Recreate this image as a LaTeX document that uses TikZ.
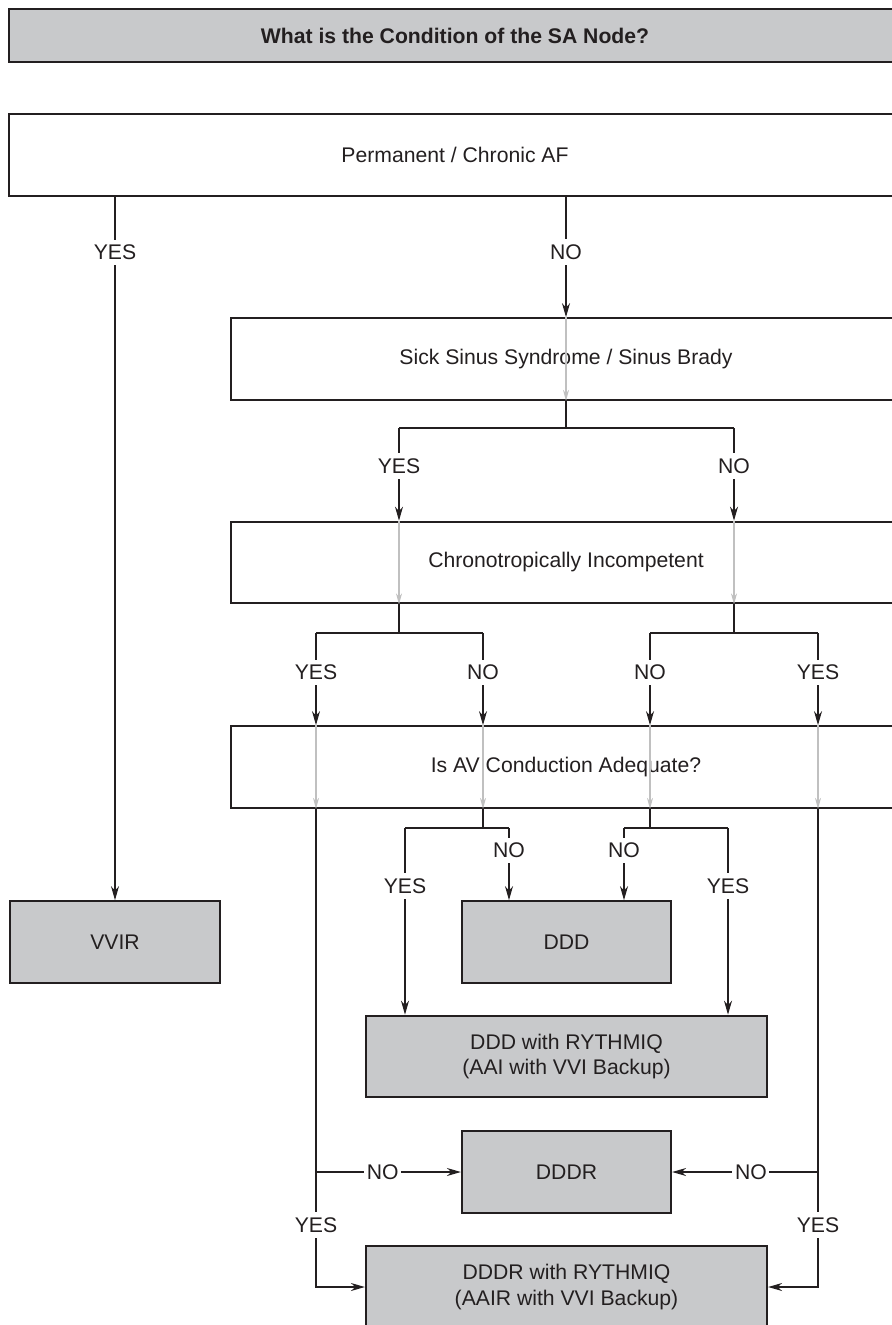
\documentclass[tikz,border=0pt]{standalone}
\usepackage{fontspec}
\setmainfont{Liberation Sans}
\usepackage{tikz}
\usetikzlibrary{arrows.meta, positioning}
\definecolor{boxgray}{RGB}{200, 201, 203}
\definecolor{inkgray}{RGB}{35, 31, 32}
\definecolor{ghostgray}{RGB}{192, 192, 192}
\newcommand{\chartfont}{\fontsize{12.05}{14.5}\selectfont}

\begin{document}
\begin{tikzpicture}[
    font=\chartfont,
    box/.style={draw=inkgray, line width=1.25pt, minimum height=1.63cm, inner sep=0pt, text=inkgray, align=center},
    wide/.style={box, minimum width=13.40cm},
    result/.style={box, fill=boxgray},
    conn/.style={draw=inkgray, line width=0.7pt},
    arr/.style={conn, -{Stealth[length=0.28cm, width=0.16cm, inset=0.09cm]}},
    ghost/.style={draw=ghostgray, line width=0.6pt, -{Stealth[length=0.22cm, width=0.12cm, inset=0.07cm]}},
    lbl/.style={fill=white, text=inkgray, inner xsep=1.5pt, inner ysep=3pt}
  ]
  \useasboundingbox (0,0) rectangle (17.84,-26.5);

  % question boxes
  \node[result, minimum width=17.84cm, minimum height=1.06cm, font=\chartfont\bfseries] (title) at (9.10,-0.71) {What is the Condition of the SA Node?};
  \node[box, minimum width=17.84cm] (perm) at (9.10,-3.10) {Permanent / Chronic AF};
  \node[wide] (sick) at (11.32,-7.18) {Sick Sinus Syndrome / Sinus Brady};
  \node[wide] (chrono) at (11.32,-11.25) {Chronotropically Incompetent};
  \node[wide] (av) at (11.32,-15.34) {Is AV Conduction Adequate?};

  % pacing modes
  \node[result, minimum width=4.20cm] (vvir) at (2.30,-18.84) {VVIR};
  \node[result, minimum width=4.18cm] (ddd) at (11.33,-18.84) {DDD};
  \node[result, minimum width=8.02cm] (dddq) at (11.33,-21.13) {DDD with RYTHMIQ\\(AAI with VVI Backup)};
  \node[result, minimum width=4.18cm] (dddr) at (11.33,-23.44) {DDDR};
  \node[result, minimum width=8.02cm] (dddrq) at (11.33,-25.74) {DDDR with RYTHMIQ\\(AAIR with VVI Backup)};

  % branch points
  \coordinate (sj-l) at (7.98,-8.56);
  \coordinate (sj-r) at (14.68,-8.56);
  \coordinate (cj-a) at (6.32,-12.66);
  \coordinate (cj-b) at (9.66,-12.66);
  \coordinate (cj-c) at (13.00,-12.66);
  \coordinate (cj-d) at (16.36,-12.66);
  \coordinate (aj-a) at (8.10,-16.56);
  \coordinate (aj-b) at (10.18,-16.56);
  \coordinate (aj-c) at (12.48,-16.56);
  \coordinate (aj-d) at (14.56,-16.56);

  % AF or not
  \draw[arr] (vvir.north |- perm.south) -- node[lbl, pos=.079]{YES} (vvir.north);
  \draw[arr] (sick.north |- perm.south) -- node[lbl, pos=.46]{NO} (sick.north);

  % forks down to the next question
  \foreach \up/\src/\l/\r/\ll/\lr/\dst/\p in {
    sick/sick/sj-l/sj-r/YES/NO/chrono/.41,
    chrono/sj-l/cj-a/cj-b/YES/NO/av/.43,
    chrono/sj-r/cj-c/cj-d/NO/YES/av/.43}{
    \draw[conn] (\up.south -| \src) -- (\src |- \l) (\l) -- (\r);
    \draw[arr] (\l) -- node[lbl, pos=\p]{\ll} (\dst.north -| \l);
    \draw[arr] (\r) -- node[lbl, pos=\p]{\lr} (\dst.north -| \r);
  }

  % AV conduction forks
  \draw[conn] (av.south -| cj-b) -- (cj-b |- aj-a) (aj-a) -- (aj-b);
  \draw[conn] (av.south -| cj-c) -- (cj-c |- aj-c) (aj-c) -- (aj-d);
  \draw[arr] (aj-a) -- node[lbl, pos=.31]{YES} (dddq.north -| aj-a);
  \draw[arr] (aj-b) -- node[lbl, pos=.31]{NO} (ddd.north -| aj-b);
  \draw[arr] (aj-c) -- node[lbl, pos=.31]{NO} (ddd.north -| aj-c);
  \draw[arr] (aj-d) -- node[lbl, pos=.31]{YES} (dddq.north -| aj-d);

  % outer lines
  \draw[arr] (av.south -| cj-a) -- node[lbl, pos=.87]{YES} (cj-a |- dddrq) -- (dddrq.west);
  \draw[arr] (cj-a |- dddr) -- node[lbl, pos=.46]{NO} (dddr.west);
  \draw[arr] (av.south -| cj-d) -- node[lbl, pos=.87]{YES} (cj-d |- dddrq) -- (dddrq.east);
  \draw[arr] (cj-d |- dddr) -- node[lbl, pos=.46]{NO} (dddr.east);

  % pass-through arrows
  \foreach \b/\c in {sick/sick, chrono/sj-l, chrono/sj-r, av/cj-a, av/cj-b, av/cj-c, av/cj-d}
    \draw[ghost] (\b.north -| \c) -- (\b.south -| \c);
\end{tikzpicture}
\end{document}
